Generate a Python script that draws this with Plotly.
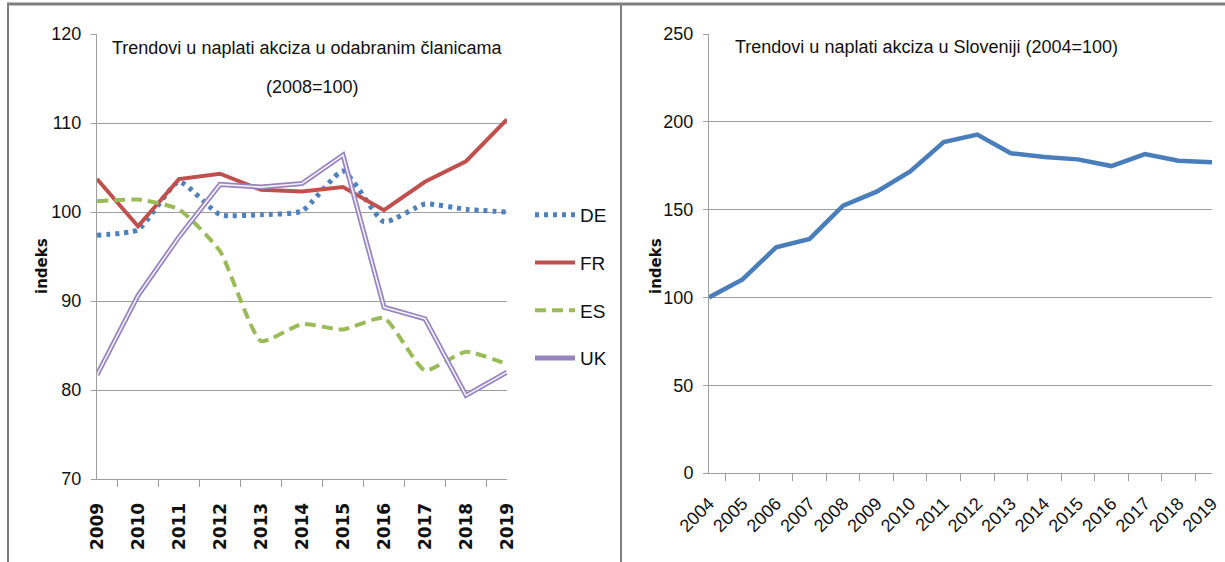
import plotly.graph_objects as go

# lijevi grafikon - indeksi 2008=100
god_eu = ["2009", "2010", "2011", "2012", "2013", "2014", "2015", "2016", "2017", "2018", "2019"]
de = [97.4, 98.0, 103.4, 99.7, 99.7, 100.1, 104.6, 98.9, 100.9, 100.3, 100.0]
fr = [103.7, 98.4, 103.7, 104.3, 102.5, 102.3, 102.8, 100.2, 103.4, 105.7, 110.4]
es = [101.2, 101.4, 100.3, 95.6, 85.5, 87.4, 86.8, 88.1, 82.2, 84.3, 82.9]
uk = [81.7, 90.6, 97.2, 103.1, 102.8, 103.2, 106.4, 89.3, 88.0, 79.4, 82.0]

# desni grafikon - Slovenija 2004=100
god_si = ["2004", "2005", "2006", "2007", "2008", "2009", "2010", "2011",
          "2012", "2013", "2014", "2015", "2016", "2017", "2018", "2019"]
si = [100, 110.2, 128.5, 133.3, 152.3, 160.2, 171.8, 188.5,
      192.7, 182.1, 180.0, 178.6, 174.8, 181.6, 177.8, 176.9]

NARROW = "Liberation Sans Narrow, Arial Narrow, Liberation Sans, sans-serif"
W, H = 1225, 562
GRID = "#9d9d9d"


def nf(size, **kw):
    return dict(family=NARROW, size=size, color="#111", **kw)


fig = go.Figure()

fig.add_trace(go.Scatter(x=god_eu, y=de, name="DE", mode="lines", legendgroup="de",
                         line=dict(color="#4f81bd", width=5, dash="4px,5px", shape="spline", smoothing=0.5)))
fig.add_trace(go.Scatter(x=god_eu, y=fr, name="FR", mode="lines", legendgroup="fr",
                         line=dict(color="#c0504d", width=4)))
fig.add_trace(go.Scatter(x=god_eu, y=es, name="ES", mode="lines", legendgroup="es",
                         line=dict(color="#9bbb59", width=4, dash="11px,6px", shape="spline", smoothing=0.5)))
fig.add_trace(go.Scatter(x=god_eu, y=uk, name="UK", mode="lines", legendgroup="uk",
                         line=dict(color="#9584bd", width=5)))
# dvostruka linija za UK
fig.add_trace(go.Scatter(x=god_eu, y=uk, name="UK", mode="lines", legendgroup="uk",
                         showlegend=False, hoverinfo="skip",
                         line=dict(color="#f4f0fa", width=1.6)))

fig.add_trace(go.Scatter(x=god_si, y=si, name="SI", mode="lines", showlegend=False,
                         xaxis="x2", yaxis="y2",
                         line=dict(color="#4a7ebb", width=4.5)))

xcommon = dict(showline=True, linecolor=GRID, linewidth=1, showgrid=False, ticks="outside",
               tickcolor=GRID, ticklen=7, zeroline=False, automargin=False,
               type="category", tickson="boundaries")
ycommon = dict(showline=True, linecolor=GRID, linewidth=1, gridcolor=GRID, gridwidth=1,
               ticks="outside", tickcolor=GRID, ticklen=5, zeroline=False, automargin=False,
               tickfont=nf(18), ticklabelstandoff=6)

txt = dict(xref="paper", yref="paper", showarrow=False, xanchor="center", yanchor="middle")

fig.update_layout(
    width=W, height=H,
    margin=dict(l=0, r=0, t=0, b=0),
    paper_bgcolor="white", plot_bgcolor="white",
    font=dict(family=NARROW, color="#111"),
    xaxis=dict(domain=[97 / W, 507 / W], tickangle=-90,
               tickfont=dict(family="DejaVu Sans", size=17, weight="bold", color="#111"),
               ticklabelstandoff=16, **xcommon),
    yaxis=dict(domain=[1 - 479 / H, 1 - 34 / H], range=[70, 120], dtick=10, **ycommon),
    xaxis2=dict(domain=[709 / W, 1212 / W], tickangle=-45, anchor="y2",
                tickfont=nf(18), ticklabelstandoff=12, **xcommon),
    yaxis2=dict(domain=[1 - 473 / H, 1 - 34 / H], range=[0, 250], dtick=50, anchor="x2", **ycommon),
    legend=dict(x=530 / W, y=1 - 196 / H, xanchor="left", yanchor="top",
                font=nf(19), tracegroupgap=20,
                itemwidth=40, bgcolor="rgba(0,0,0,0)"),
    annotations=[
        dict(text="Trendovi u naplati akciza u odabranim članicama", x=307 / W, y=1 - 48 / H,
             font=nf(18), **txt),
        dict(text="(2008=100)", x=312 / W, y=1 - 87 / H, font=nf(18), **txt),
        dict(text="Trendovi u naplati akciza u Sloveniji (2004=100)", x=926 / W, y=1 - 47 / H,
             font=nf(18), **txt),
        dict(text="indeks", x=42 / W, y=1 - 266 / H, textangle=-90,
             font=dict(size=15, family="DejaVu Sans", weight="bold", color="#111"), **txt),
        dict(text="indeks", x=656 / W, y=1 - 266 / H, textangle=-90,
             font=dict(size=15, family="DejaVu Sans", weight="bold", color="#111"), **txt),
    ],
    shapes=[
        dict(type="line", xref="paper", yref="paper", x0=7 / W, x1=1, y0=1 - 4 / H, y1=1 - 4 / H,
             line=dict(color="#7f7f7f", width=3)),
        dict(type="line", xref="paper", yref="paper", x0=8 / W, x1=8 / W, y0=0, y1=1 - 4 / H,
             line=dict(color="#7f7f7f", width=2)),
        dict(type="line", xref="paper", yref="paper", x0=621 / W, x1=621 / W, y0=0, y1=1 - 4 / H,
             line=dict(color="#7f7f7f", width=2)),
    ],
)

# bez margine stranice, da se slika poklopi s prozorom
fig.write_html("out.html", config={"displayModeBar": False},
               post_script="document.body.style.margin='0';document.body.style.overflow='hidden';")
